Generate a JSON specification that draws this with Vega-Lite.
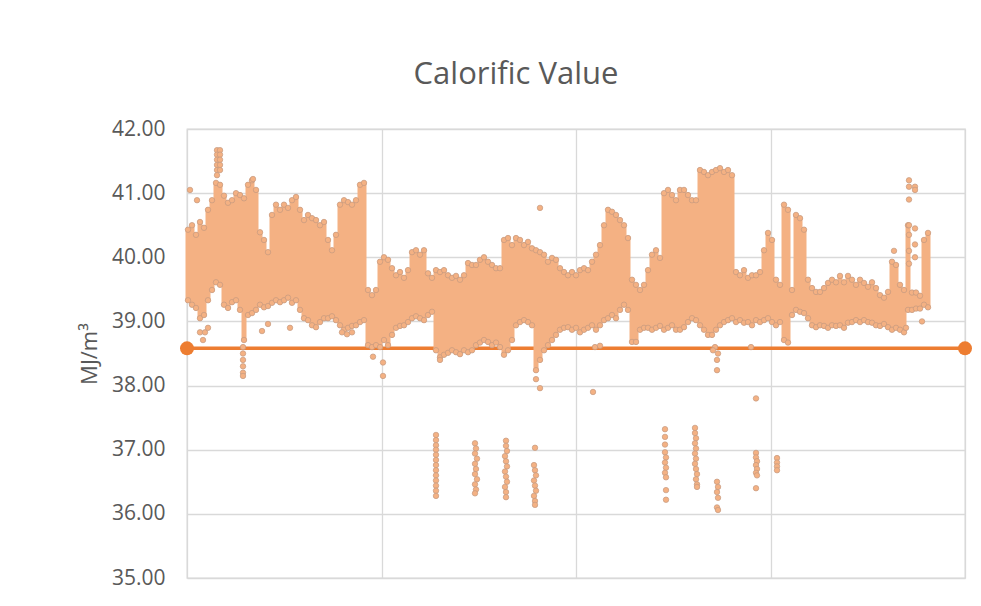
{
"$schema":"https://vega.github.io/schema/vega-lite/v6.json",
"width":778,"height":449,
"autosize":"none",
"padding":{"left":187,"top":129,"right":16,"bottom":28},
"background":"white",
"title":{"text":"Calorific Value","fontSize":31,"font":"Open Sans","fontWeight":"normal","color":"#595959","anchor":"middle","dx":-60,"offset":3,"baseline":"alphabetic"},
"config":{"view":{"stroke":"#D9D9D9","strokeWidth":1.3},"font":"Open Sans"},
"datasets":{
"ref":[{"x":0,"v":38.58},{"x":778,"v":38.58}],
"band":[
{"x":1,"lo":39.33,"hi":40.43},{"x":5,"lo":39.26,"hi":40.5},{"x":9,"lo":39.21,"hi":40.35},{"x":13,"lo":39.05,"hi":40.55},{"x":17,"lo":39.1,"hi":40.46},{"x":21,"lo":39.33,"hi":40.74},{"x":25,"lo":39.49,"hi":40.89},{"x":29,"lo":39.61,"hi":41.16},{"x":33,"lo":39.57,"hi":41.13},{"x":37,"lo":39.26,"hi":40.96},
{"x":41,"lo":39.21,"hi":40.85},{"x":45,"lo":39.3,"hi":40.89},{"x":49,"lo":39.33,"hi":41.0},{"x":53,"lo":39.18,"hi":40.97},{"x":57,"lo":38.71,"hi":40.92},{"x":61,"lo":39.1,"hi":41.13},{"x":65,"lo":39.13,"hi":41.2},{"x":69,"lo":39.18,"hi":41.05},{"x":73,"lo":39.26,"hi":40.39},{"x":77,"lo":39.22,"hi":40.27},
{"x":81,"lo":39.24,"hi":40.08},{"x":85,"lo":39.29,"hi":40.66},{"x":89,"lo":39.33,"hi":40.82},{"x":93,"lo":39.3,"hi":40.74},{"x":97,"lo":39.33,"hi":40.82},{"x":101,"lo":39.37,"hi":40.77},{"x":105,"lo":39.29,"hi":40.89},{"x":109,"lo":39.33,"hi":40.94},{"x":113,"lo":39.18,"hi":40.74},{"x":117,"lo":39.05,"hi":40.58},
{"x":121,"lo":39.02,"hi":40.66},{"x":125,"lo":38.94,"hi":40.61},{"x":129,"lo":38.91,"hi":40.58},{"x":133,"lo":38.99,"hi":40.5},{"x":137,"lo":39.05,"hi":40.55},{"x":141,"lo":39.05,"hi":40.27},{"x":145,"lo":39.08,"hi":40.11},{"x":149,"lo":39.02,"hi":40.35},{"x":153,"lo":38.94,"hi":40.82},{"x":157,"lo":38.87,"hi":40.89},
{"x":161,"lo":38.9,"hi":40.86},{"x":165,"lo":38.93,"hi":40.82},{"x":169,"lo":38.94,"hi":40.89},{"x":173,"lo":38.99,"hi":41.13},{"x":177,"lo":39.02,"hi":41.16},{"x":181,"lo":38.63,"hi":39.49},{"x":185,"lo":38.6,"hi":39.41},{"x":189,"lo":38.63,"hi":39.49},{"x":193,"lo":38.6,"hi":39.93},{"x":197,"lo":38.71,"hi":40.0},
{"x":201,"lo":38.63,"hi":39.96},{"x":205,"lo":38.79,"hi":39.83},{"x":209,"lo":38.9,"hi":39.72},{"x":213,"lo":38.93,"hi":39.77},{"x":217,"lo":38.94,"hi":39.68},{"x":221,"lo":38.99,"hi":39.8},{"x":225,"lo":39.05,"hi":40.08},{"x":229,"lo":39.08,"hi":40.11},{"x":233,"lo":39.05,"hi":40.04},{"x":237,"lo":39.02,"hi":40.11},
{"x":241,"lo":39.1,"hi":39.75},{"x":245,"lo":39.15,"hi":39.68},{"x":249,"lo":38.55,"hi":39.8},{"x":253,"lo":38.44,"hi":39.77},{"x":257,"lo":38.48,"hi":39.8},{"x":261,"lo":38.51,"hi":39.72},{"x":265,"lo":38.55,"hi":39.68},{"x":269,"lo":38.52,"hi":39.71},{"x":273,"lo":38.49,"hi":39.65},{"x":277,"lo":38.55,"hi":39.72},
{"x":281,"lo":38.52,"hi":39.91},{"x":285,"lo":38.55,"hi":39.88},{"x":289,"lo":38.63,"hi":39.88},{"x":293,"lo":38.67,"hi":39.96},{"x":297,"lo":38.71,"hi":40.0},{"x":301,"lo":38.68,"hi":39.93},{"x":305,"lo":38.63,"hi":39.88},{"x":309,"lo":38.67,"hi":39.83},{"x":313,"lo":38.6,"hi":39.83},{"x":317,"lo":38.48,"hi":40.27},
{"x":321,"lo":38.55,"hi":40.3},{"x":325,"lo":38.71,"hi":40.19},{"x":329,"lo":38.94,"hi":40.3},{"x":333,"lo":38.99,"hi":40.27},{"x":337,"lo":39.02,"hi":40.19},{"x":341,"lo":38.99,"hi":40.24},{"x":345,"lo":38.94,"hi":40.14},{"x":349,"lo":38.24,"hi":40.11},{"x":353,"lo":38.4,"hi":40.08},{"x":357,"lo":38.55,"hi":40.04},
{"x":361,"lo":38.63,"hi":39.93},{"x":365,"lo":38.71,"hi":39.99},{"x":369,"lo":38.79,"hi":39.96},{"x":373,"lo":38.87,"hi":39.83},{"x":377,"lo":38.9,"hi":39.77},{"x":381,"lo":38.91,"hi":39.72},{"x":385,"lo":38.87,"hi":39.77},{"x":389,"lo":38.9,"hi":39.72},{"x":393,"lo":38.83,"hi":39.8},{"x":397,"lo":38.87,"hi":39.83},
{"x":401,"lo":38.9,"hi":39.8},{"x":405,"lo":38.94,"hi":39.93},{"x":409,"lo":38.87,"hi":40.04},{"x":413,"lo":38.94,"hi":40.19},{"x":417,"lo":39.02,"hi":40.5},{"x":421,"lo":39.05,"hi":40.74},{"x":425,"lo":39.1,"hi":40.71},{"x":429,"lo":39.05,"hi":40.66},{"x":433,"lo":39.18,"hi":40.58},{"x":437,"lo":39.26,"hi":40.5},
{"x":441,"lo":39.18,"hi":40.3},{"x":445,"lo":38.68,"hi":39.65},{"x":449,"lo":38.68,"hi":39.57},{"x":453,"lo":38.87,"hi":39.49},{"x":457,"lo":38.9,"hi":39.57},{"x":461,"lo":38.9,"hi":39.8},{"x":465,"lo":38.87,"hi":40.04},{"x":469,"lo":38.9,"hi":40.11},{"x":473,"lo":38.93,"hi":39.99},{"x":477,"lo":38.87,"hi":41.0},
{"x":481,"lo":38.9,"hi":41.05},{"x":485,"lo":38.94,"hi":40.97},{"x":489,"lo":38.87,"hi":40.89},{"x":493,"lo":38.87,"hi":41.05},{"x":497,"lo":38.91,"hi":41.05},{"x":501,"lo":38.99,"hi":40.97},{"x":505,"lo":39.05,"hi":40.89},{"x":509,"lo":39.02,"hi":40.89},{"x":513,"lo":38.94,"hi":41.36},{"x":517,"lo":38.87,"hi":41.33},
{"x":521,"lo":38.79,"hi":41.28},{"x":525,"lo":38.79,"hi":41.33},{"x":529,"lo":38.87,"hi":41.36},{"x":533,"lo":38.94,"hi":41.39},{"x":537,"lo":38.99,"hi":41.33},{"x":541,"lo":39.02,"hi":41.36},{"x":545,"lo":39.05,"hi":41.28},{"x":549,"lo":38.99,"hi":39.77},{"x":553,"lo":39.02,"hi":39.72},{"x":557,"lo":38.98,"hi":39.8},
{"x":561,"lo":38.99,"hi":39.68},{"x":565,"lo":38.94,"hi":39.72},{"x":569,"lo":39.02,"hi":39.72},{"x":573,"lo":38.99,"hi":39.77},{"x":577,"lo":39.02,"hi":40.11},{"x":581,"lo":39.05,"hi":40.38},{"x":585,"lo":38.99,"hi":40.27},{"x":589,"lo":38.94,"hi":39.65},{"x":593,"lo":38.99,"hi":39.57},{"x":597,"lo":38.71,"hi":40.82},
{"x":601,"lo":38.67,"hi":40.74},{"x":605,"lo":39.1,"hi":39.49},{"x":609,"lo":39.18,"hi":40.66},{"x":613,"lo":39.15,"hi":40.61},{"x":617,"lo":39.13,"hi":40.43},{"x":621,"lo":39.05,"hi":39.65},{"x":625,"lo":38.94,"hi":39.52},{"x":629,"lo":38.91,"hi":39.46},{"x":633,"lo":38.94,"hi":39.46},{"x":637,"lo":38.93,"hi":39.52},
{"x":641,"lo":38.9,"hi":39.6},{"x":645,"lo":38.94,"hi":39.65},{"x":649,"lo":38.93,"hi":39.61},{"x":653,"lo":38.94,"hi":39.71},{"x":657,"lo":38.9,"hi":39.61},{"x":661,"lo":38.98,"hi":39.71},{"x":665,"lo":38.99,"hi":39.65},{"x":669,"lo":39.02,"hi":39.57},{"x":673,"lo":38.99,"hi":39.65},{"x":677,"lo":39.02,"hi":39.6},
{"x":681,"lo":38.99,"hi":39.54},{"x":685,"lo":38.98,"hi":39.61},{"x":689,"lo":38.94,"hi":39.52},{"x":693,"lo":38.93,"hi":39.41},{"x":697,"lo":38.96,"hi":39.37},{"x":701,"lo":38.91,"hi":39.46},{"x":705,"lo":38.87,"hi":39.93},{"x":709,"lo":38.9,"hi":39.88},{"x":713,"lo":38.87,"hi":39.57},{"x":717,"lo":38.83,"hi":39.49},
{"x":721,"lo":39.18,"hi":40.5},{"x":725,"lo":39.18,"hi":39.45},{"x":729,"lo":39.2,"hi":39.45},{"x":733,"lo":39.2,"hi":39.4},{"x":737,"lo":39.26,"hi":40.27},{"x":741,"lo":39.22,"hi":40.38}
],
"pts":[
{"x":3,"v":41.05},{"x":10,"v":40.89},{"x":13,"v":38.83},{"x":18,"v":38.83},{"x":16,"v":38.71},{"x":21,"v":38.9},
{"x":30,"v":41.67},{"x":30,"v":41.6},{"x":30,"v":41.52},{"x":30,"v":41.44},{"x":30,"v":41.36},{"x":30,"v":41.28},{"x":33,"v":41.67},{"x":33,"v":41.6},{"x":33,"v":41.52},{"x":33,"v":41.44},{"x":33,"v":41.36},
{"x":56,"v":38.6},{"x":56,"v":38.5},{"x":56,"v":38.4},{"x":56,"v":38.3},{"x":56,"v":38.2},{"x":56,"v":38.15},
{"x":66,"v":41.22},{"x":81,"v":38.96},{"x":75,"v":38.85},{"x":103,"v":38.9},{"x":155,"v":38.83},{"x":160,"v":38.8},{"x":165,"v":38.83},
{"x":186,"v":38.45},{"x":196,"v":38.36},{"x":196,"v":38.15},{"x":253,"v":38.4},
{"x":353,"v":40.77},{"x":353,"v":37.96},{"x":349,"v":38.1},{"x":406,"v":37.9},{"x":408,"v":38.6},{"x":413,"v":38.62},
{"x":530,"v":38.24},{"x":530,"v":38.4},{"x":531,"v":38.5},{"x":528,"v":38.6},{"x":526,"v":38.55},{"x":569,"v":37.8},{"x":564,"v":38.6},
{"x":722,"v":41.2},{"x":722,"v":41.1},{"x":722,"v":40.9},{"x":722,"v":40.5},{"x":722,"v":40.35},{"x":722,"v":40.1},{"x":722,"v":39.9},
{"x":728,"v":41.1},{"x":728,"v":41.05},{"x":728,"v":40.45},{"x":728,"v":40.2},{"x":728,"v":40.0},{"x":719,"v":38.9},{"x":735,"v":39.0},{"x":707,"v":40.1},
{"x":249,"v":37.23},{"x":249,"v":37.15},{"x":249,"v":37.07},{"x":249,"v":37.0},{"x":249,"v":36.92},{"x":249,"v":36.84},{"x":249,"v":36.76},{"x":249,"v":36.68},{"x":249,"v":36.6},{"x":249,"v":36.52},{"x":249,"v":36.44},{"x":249,"v":36.36},{"x":249,"v":36.28},
{"x":288,"v":37.1},{"x":289,"v":37.02},{"x":288,"v":36.94},{"x":290,"v":36.86},{"x":288,"v":36.78},{"x":289,"v":36.7},{"x":288,"v":36.62},{"x":290,"v":36.54},{"x":288,"v":36.46},{"x":289,"v":36.38},{"x":288,"v":36.32},
{"x":319,"v":37.14},{"x":319,"v":37.06},{"x":320,"v":36.98},{"x":318,"v":36.9},{"x":319,"v":36.82},{"x":320,"v":36.74},{"x":318,"v":36.66},{"x":319,"v":36.58},{"x":320,"v":36.5},{"x":318,"v":36.42},{"x":319,"v":36.34},{"x":319,"v":36.26},
{"x":348,"v":37.03},{"x":347,"v":36.76},{"x":348,"v":36.68},{"x":349,"v":36.6},{"x":347,"v":36.52},{"x":348,"v":36.44},{"x":349,"v":36.36},{"x":347,"v":36.28},{"x":348,"v":36.2},{"x":348,"v":36.14},
{"x":478,"v":37.32},{"x":478,"v":37.2},{"x":478,"v":37.08},{"x":478,"v":36.96},{"x":479,"v":36.88},{"x":478,"v":36.8},{"x":479,"v":36.72},{"x":478,"v":36.64},{"x":479,"v":36.57},{"x":479,"v":36.37},{"x":479,"v":36.22},
{"x":508,"v":37.34},{"x":508,"v":37.26},{"x":509,"v":37.18},{"x":508,"v":37.1},{"x":509,"v":37.02},{"x":508,"v":36.94},{"x":509,"v":36.86},{"x":508,"v":36.78},{"x":509,"v":36.7},{"x":510,"v":36.62},{"x":509,"v":36.54},{"x":510,"v":36.46},{"x":510,"v":36.42},
{"x":530,"v":36.5},{"x":531,"v":36.42},{"x":530,"v":36.34},{"x":531,"v":36.25},{"x":530,"v":36.1},{"x":531,"v":36.06},
{"x":569,"v":36.95},{"x":569,"v":36.88},{"x":570,"v":36.82},{"x":569,"v":36.76},{"x":570,"v":36.7},{"x":569,"v":36.64},{"x":570,"v":36.6},{"x":569,"v":36.4},
{"x":590,"v":36.87},{"x":590,"v":36.8},{"x":590,"v":36.74},{"x":590,"v":36.68}
]
},
"layer":[
{"data":{"name":"ref"},
 "mark":{"type":"line","color":"#ED7D31","strokeWidth":3.5,"point":{"filled":true,"size":196,"color":"#ED7D31"}},
 "encoding":{
  "x":{"field":"x","type":"quantitative","scale":{"domain":[0,778],"nice":false,"zero":false},
       "axis":{"values":[0,194.5,389,583.5,778],"grid":true,"gridColor":"#D9D9D9","gridWidth":1.3,"labels":false,"ticks":false,"domain":false,"title":null}},
  "y":{"field":"v","type":"quantitative","scale":{"domain":[35,42],"nice":false,"zero":false},
       "axis":{"values":[35,36,37,38,39,40,41,42],"format":".2f","grid":true,"gridColor":"#D9D9D9","gridWidth":1.3,"ticks":false,"domain":false,
               "labelFontSize":21,"labelColor":"#595959","labelFont":"Open Sans","labelPadding":22,
               "title":"MJ/m³","titleFontSize":22,"titleFontWeight":"normal","titleColor":"#595959","titleFont":"Open Sans","titlePadding":10}}
 }},
{"data":{"name":"band"},
 "mark":{"type":"rule","color":"#F4B183","strokeWidth":5,"strokeCap":"round"},
 "encoding":{"x":{"field":"x","type":"quantitative"},"y":{"field":"lo","type":"quantitative"},"y2":{"field":"hi"}}},
{"data":{"name":"band"},
 "mark":{"type":"point","filled":true,"size":30,"fill":"#F4B183","stroke":"#C49A80","strokeWidth":0.7,"opacity":1},
 "encoding":{"x":{"field":"x","type":"quantitative"},"y":{"field":"hi","type":"quantitative"}}},
{"data":{"name":"band"},
 "mark":{"type":"point","filled":true,"size":30,"fill":"#F4B183","stroke":"#C49A80","strokeWidth":0.7,"opacity":1},
 "encoding":{"x":{"field":"x","type":"quantitative"},"y":{"field":"lo","type":"quantitative"}}},
{"data":{"name":"pts"},
 "mark":{"type":"point","filled":true,"size":30,"fill":"#F4B183","stroke":"#C49A80","strokeWidth":0.7,"opacity":1},
 "encoding":{"x":{"field":"x","type":"quantitative"},"y":{"field":"v","type":"quantitative"}}}
]
}
